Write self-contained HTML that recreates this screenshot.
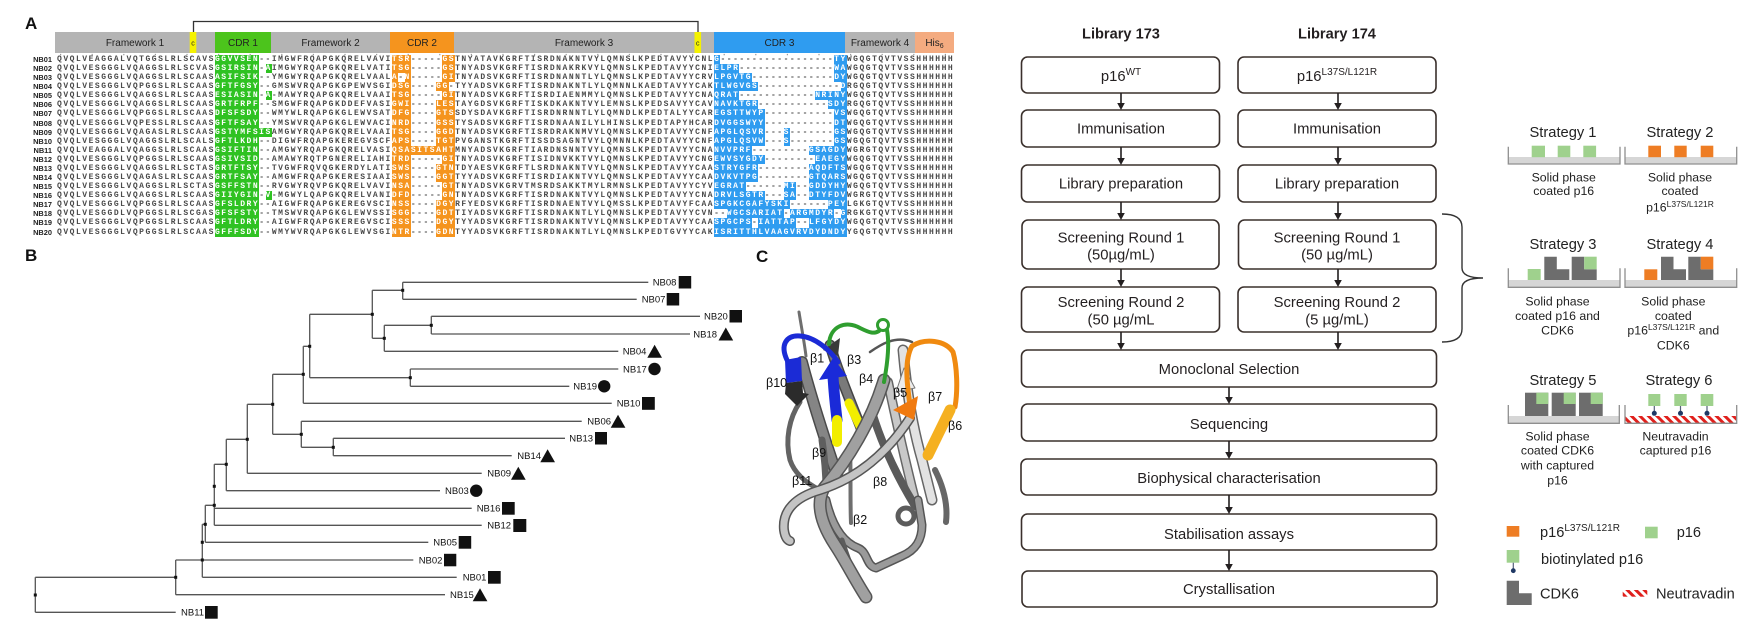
<!DOCTYPE html>
<html><head><meta charset="utf-8">
<style>
html,body{margin:0;padding:0;background:#fff;}
body{width:1762px;height:634px;overflow:hidden;position:relative;}
svg{position:absolute;left:0;top:0;}
.r{position:absolute;left:0;width:960px;height:9.08px;line-height:9.08px;white-space:pre;}
.r i{position:absolute;left:28px;top:0;width:24px;text-align:right;font:bold 7.4px "Liberation Sans",sans-serif;font-style:normal;color:#222;line-height:9.08px;}
.r span{position:absolute;left:57px;top:0;font:bold 8px "Liberation Mono",monospace;letter-spacing:1.517px;color:#4a4a4a;line-height:9.08px;}
.r b{display:inline-block;height:9.08px;vertical-align:top;color:#fff;font-weight:bold;}
.r b.g{background:#2fc222;}
.r b.o{background:#f5941e;}
.r b.b{background:#2f9cf0;}
</style></head><body>
<svg width="1762" height="634" viewBox="0 0 1762 634" xmlns="http://www.w3.org/2000/svg" font-family="Liberation Sans, Arial, sans-serif">
<defs>
<pattern id="hatch" width="6" height="6" patternUnits="userSpaceOnUse" patternTransform="rotate(-45)">
<rect width="6" height="6" fill="#fff"/><rect width="3" height="6" fill="#e0201c"/>
</pattern>
</defs>

<!-- ===== Panel A ===== -->
<text x="25" y="29" font-size="17" font-weight="bold" fill="#111">A</text>
<path d="M193.5,32V21.5H698V32" fill="none" stroke="#333" stroke-width="1.3"/>
<rect x="55" y="32" width="899" height="21" fill="#b4b4b4"/>
<rect x="189.7" y="32" width="6.6" height="21" fill="#f5f200"/>
<rect x="215" y="32" width="56" height="21" fill="#4cc41c"/>
<rect x="390" y="32" width="64" height="21" fill="#f5941e"/>
<rect x="694.5" y="32" width="6.6" height="21" fill="#f5f200"/>
<rect x="714" y="32" width="131" height="21" fill="#2f9cf0"/>
<rect x="915" y="32" width="39" height="21" fill="#f4ab80"/>
<g font-size="10" fill="#222" text-anchor="middle">
<text x="135" y="46">Framework 1</text>
<text x="193" y="45.5" font-size="7">c</text>
<text x="243" y="46">CDR 1</text>
<text x="330.5" y="46">Framework 2</text>
<text x="422" y="46">CDR 2</text>
<text x="584" y="46">Framework 3</text>
<text x="697.8" y="45.5" font-size="7">c</text>
<text x="779.5" y="46">CDR 3</text>
<text x="880" y="46">Framework 4</text>
<text x="934.5" y="46">His<tspan font-size="7" dy="2">6</tspan></text>
</g>
<line x1="60" y1="54.6" x2="954" y2="54.6" stroke="#9a9a9a" stroke-width="1.4" stroke-dasharray="1.2 30.4"/>

<!-- ===== Panel B tree ===== -->
<text x="25" y="261" font-size="17" font-weight="bold" fill="#111">B</text>
<path fill="none" stroke="#555" stroke-width="1.3" d="M402.7,282.3H648.3 M402.7,299.3H636.7 M431.3,316.3H700 M431.3,334H690 M384.3,351.3H618.3 M410.3,369H618.3 M410.3,386.3H569.3 M303.3,403.3H611.7 M301.3,421.3H581.7 M333.3,438.3H565 M333.3,455.7H511.7 M247.3,473.3H481.7 M226.3,490.7H440 M214.3,508.3H471.7 M214.3,525.3H481.7 M205.3,542.3H428.3 M175.7,560H413.3 M202.3,577.3H456.7 M175.7,594.7H445 M35.3,612.3H175.7 M35.3,577.3H175.7 M372.3,290.3H402.7 M309.7,314.3H372.3 M372.3,338.3H384.3 M384.3,325.3H431.3 M309.7,377.7H410.3 M303.3,346.3H309.7 M272.7,374.3H303.3 M272.7,434.3H301.3 M301.3,447.3H333.3 M247.3,404.3H272.7 M226.3,439.3H247.3 M214.3,464.3H226.3 M205.3,505.3H214.3 M202.3,524.3H205.3 M35.3,577.3V612.3 M175.7,560V594.7 M202.3,524.3V577.3 M205.3,505.3V542.3 M214.3,464.3V525.3 M226.3,439.3V490.7 M247.3,404.3V473.3 M272.7,374.3V434.3 M301.3,421.3V447.3 M333.3,438.3V455.7 M303.3,346.3V403.3 M309.7,314.3V377.7 M372.3,290.3V338.3 M402.7,282.3V299.3 M384.3,325.3V351.3 M431.3,316.3V334 M410.3,369V386.3"/>
<g fill="#111">
<rect x="33.8" y="593.5" width="3" height="3"/><rect x="174.2" y="575.8" width="3" height="3"/><rect x="200.8" y="558.5" width="3" height="3"/><rect x="200.8" y="540.8" width="3" height="3"/><rect x="203.8" y="522.8" width="3" height="3"/><rect x="212.8" y="503.8" width="3" height="3"/><rect x="212.8" y="484.8" width="3" height="3"/><rect x="224.8" y="462.8" width="3" height="3"/><rect x="245.8" y="437.8" width="3" height="3"/><rect x="271.2" y="402.8" width="3" height="3"/><rect x="301.8" y="372.8" width="3" height="3"/><rect x="308.2" y="344.8" width="3" height="3"/><rect x="370.8" y="312.8" width="3" height="3"/><rect x="401.2" y="288.8" width="3" height="3"/><rect x="382.8" y="336.8" width="3" height="3"/><rect x="429.8" y="323.8" width="3" height="3"/><rect x="408.8" y="376.2" width="3" height="3"/><rect x="299.8" y="432.8" width="3" height="3"/><rect x="331.8" y="445.8" width="3" height="3"/>
</g>
<g font-size="9.5" fill="#111">
<text x="652.7" y="285.7">NB08</text><rect x="678.7" y="276" width="12.5" height="12.5"/>
<text x="641.7" y="302.7">NB07</text><rect x="666.7" y="293" width="12.5" height="12.5"/>
<text x="704" y="319.7">NB20</text><rect x="729.5" y="310" width="12.5" height="12.5"/>
<text x="693.3" y="337.4">NB18</text><polygon points="718.5,340.5 733.2,340.5 725.8,327.5"/>
<text x="622.7" y="354.7">NB04</text><polygon points="647.3,357.8 662,357.8 654.6,344.8"/>
<text x="623" y="372.4">NB17</text><circle cx="654.5" cy="369" r="6.2"/>
<text x="573.3" y="389.7">NB19</text><circle cx="604.2" cy="386.3" r="6.2"/>
<text x="616.7" y="406.7">NB10</text><rect x="642" y="397" width="12.8" height="12.8"/>
<text x="587.3" y="424.7">NB06</text><polygon points="610.7,427.8 625.4,427.8 618,414.8"/>
<text x="569.3" y="441.7">NB13</text><rect x="595" y="432" width="12" height="12.5"/>
<text x="517.3" y="459.1">NB14</text><polygon points="540.3,462.2 555,462.2 547.6,449.2"/>
<text x="487.3" y="476.7">NB09</text><polygon points="511,479.8 525.7,479.8 518.3,466.8"/>
<text x="445" y="494.1">NB03</text><circle cx="476.2" cy="490.7" r="6.2"/>
<text x="476.7" y="511.7">NB16</text><rect x="502" y="502" width="12.7" height="12.7"/>
<text x="487.3" y="528.7">NB12</text><rect x="513.3" y="519" width="13" height="13"/>
<text x="433.3" y="545.7">NB05</text><rect x="458.7" y="536" width="12.5" height="12.7"/>
<text x="418.7" y="563.4">NB02</text><rect x="444" y="553.8" width="12.3" height="12.5"/>
<text x="462.7" y="580.7">NB01</text><rect x="488" y="571" width="12.7" height="12.7"/>
<text x="450" y="598.1">NB15</text><polygon points="472.7,601.2 487.4,601.2 480,588.2"/>
<text x="181" y="615.7">NB11</text><rect x="205" y="606" width="12.7" height="12.7"/>
</g>

<!-- ===== Panel C protein ===== -->
<text x="756" y="262" font-size="17" font-weight="bold" fill="#111">C</text>
<g fill="none" stroke-linecap="round" stroke-linejoin="round">
<path d="M870,352 C880,345 895,335 912,342" stroke="#555" stroke-width="2.5"/>
<path d="M903,350 C906,385 912,425 922,460 L932,500" stroke="#666" stroke-width="11"/>
<path d="M903,350 C906,385 912,425 922,460 L932,500" stroke="#e2e2e2" stroke-width="8"/>
<path d="M888,382 C896,420 905,460 915,500" stroke="#666" stroke-width="10"/>
<path d="M888,382 C896,420 905,460 915,500" stroke="#c8c8c8" stroke-width="7"/>
<polygon points="896,392 915,388 904,368" fill="#ececec" stroke="#777" stroke-width="1"/>
<path d="M872,412 C882,445 898,478 915,506" stroke="#5a5a5a" stroke-width="8"/>
<path d="M935,470 C944,488 948,505 946,522" stroke="#666" stroke-width="6"/>
<circle cx="906" cy="516" r="8" stroke="#5c5c5c" stroke-width="5"/>
<path d="M826,500 C832,525 842,542 858,548 C868,552 866,566 876,568 L902,556 C916,550 922,540 922,525 L918,500" stroke="#555" stroke-width="9"/>
<path d="M826,500 C832,525 842,542 858,548 C868,552 866,566 876,568 L902,556 C916,550 922,540 922,525 L918,500" stroke="#9a9a9a" stroke-width="6"/>
<path d="M842,540 C850,565 858,585 866,597" stroke="#5c5c5c" stroke-width="5"/>
<path d="M850,445 C851,470 850,500 851,523" stroke="#6e6e6e" stroke-width="4"/>
<path d="M800,402 C789,418 785,440 790,460 C795,475 808,484 820,490" stroke="#636363" stroke-width="5"/>
<path d="M802,362 C812,400 825,440 838,478" stroke="#4a4a4a" stroke-width="12"/>
<path d="M802,362 C812,400 825,440 838,478" stroke="#858585" stroke-width="9"/>
<path d="M799,312 C801,325 804,340 806,356" stroke="#6e6e6e" stroke-width="3"/>
<path d="M822,440 C825,460 826,475 826,490" stroke="#5e5e5e" stroke-width="7"/>
<path d="M830,345 C838,372 850,400 861,428" stroke="#444" stroke-width="11"/>
<path d="M830,345 C838,372 850,400 861,428" stroke="#7a7a7a" stroke-width="8"/>
<path d="M849,403 L861,428" stroke="#f2ee00" stroke-width="9"/>
<polygon points="823,350 840,338 838,356" fill="#3a3a3a"/>
<path d="M884,380 C872,420 848,460 824,488 C815,505 822,525 835,545 C845,560 855,580 866,597" stroke="#555" stroke-width="13"/>
<path d="M884,380 C872,420 848,460 824,488 C815,505 822,525 835,545 C845,560 855,580 866,597" stroke="#a0a0a0" stroke-width="10"/>
<path d="M910,418 C888,452 858,478 820,490 C796,497 782,510 784,530 C785,537 787,540 790,541" stroke="#555" stroke-width="10"/>
<path d="M910,418 C888,452 858,478 820,490 C796,497 782,510 784,530 C785,537 787,540 790,541" stroke="#c4c4c4" stroke-width="7"/>
<path d="M787,360 C780,345 786,335 800,336 C815,337 830,350 838,362" stroke="#1b2bd6" stroke-width="5"/>
<polygon points="785,360 801,357 802,381 786,383" fill="#1b2bd6"/>
<polygon points="786,383 802,381 803,393 809,394 797,406 785,394" fill="#2b2b2b"/>
<path d="M833,376 C834,395 836,410 837,420" stroke="#1a2ad8" stroke-width="11"/>
<polygon points="819,380 847,376 833,358" fill="#1a2ad8"/>
<path d="M837,420 L837,442" stroke="#f2ee00" stroke-width="10"/>
<path d="M829,344 C830,326 846,320 860,328 C870,333 874,334 879,331" stroke="#2f9e2f" stroke-width="4"/>
<circle cx="883" cy="325" r="5.5" stroke="#2f9e2f" stroke-width="3"/>
<path d="M887,330 C890,346 887,366 884,382" stroke="#2f9e2f" stroke-width="4"/>
<path d="M910,405 C907,385 904,360 912,346 C925,338 945,340 953,352 C957,366 958,390 955,407" stroke="#f08a10" stroke-width="5"/>
<polygon points="893,410 918,396 914,420" fill="#f07a10"/>
<path d="M950,410 L928,455" stroke="#f5b020" stroke-width="11"/>
</g>
<g font-size="12.5" fill="#111">
<text x="766" y="387">β10</text><text x="810" y="362.5">β1</text><text x="847" y="364">β3</text><text x="859" y="383">β4</text><text x="893" y="397">β5</text><text x="928" y="401">β7</text><text x="948" y="430">β6</text><text x="812" y="457">β9</text><text x="792" y="485">β11</text><text x="873" y="486">β8</text><text x="853" y="524">β2</text>
</g>

<!-- ===== Flowchart ===== -->
<g font-size="14.8" fill="#231f20" text-anchor="middle">
<text x="1121" y="38.5" font-weight="bold" font-size="14.6">Library 173</text>
<text x="1337" y="38.5" font-weight="bold" font-size="14.6">Library 174</text>
</g>
<g fill="#fff" stroke="#3a302c" stroke-width="1.6">
<rect x="1021.5" y="57" width="198" height="36" rx="6"/>
<rect x="1238" y="57" width="198" height="36" rx="6"/>
<rect x="1021.5" y="110" width="198" height="37" rx="6"/>
<rect x="1238" y="110" width="198" height="37" rx="6"/>
<rect x="1021.5" y="165" width="198" height="37" rx="6"/>
<rect x="1238" y="165" width="198" height="37" rx="6"/>
<rect x="1022" y="220" width="197" height="49" rx="6"/>
<rect x="1238.5" y="220" width="197.5" height="49" rx="6"/>
<rect x="1021.5" y="287" width="198" height="45" rx="6"/>
<rect x="1238" y="287" width="198" height="45" rx="6"/>
<rect x="1021.5" y="350" width="415" height="37" rx="6"/>
<rect x="1021.5" y="404" width="415" height="37" rx="6"/>
<rect x="1021" y="459" width="415.5" height="36" rx="6"/>
<rect x="1021.5" y="514" width="415" height="36" rx="6"/>
<rect x="1022" y="571" width="415" height="36" rx="6"/>
</g>
<g stroke="#231f20" stroke-width="1.6">
<path d="M1121,93V104 M1338,93V104 M1121,147V159 M1338,147V159 M1121,202V214 M1338,202V214 M1121,269V281 M1338,269V281 M1121,332V344 M1338,332V344 M1229,387V398 M1229,441V453 M1229,495V508 M1229,550V565"/>
</g>
<g fill="#231f20">
<polygon points="1117.2,103 1124.8,103 1121,110"/><polygon points="1334.2,103 1341.8,103 1338,110"/>
<polygon points="1117.2,158 1124.8,158 1121,165"/><polygon points="1334.2,158 1341.8,158 1338,165"/>
<polygon points="1117.2,213 1124.8,213 1121,220"/><polygon points="1334.2,213 1341.8,213 1338,220"/>
<polygon points="1117.2,280 1124.8,280 1121,287"/><polygon points="1334.2,280 1341.8,280 1338,287"/>
<polygon points="1117.2,343 1124.8,343 1121,350"/><polygon points="1334.2,343 1341.8,343 1338,350"/>
<polygon points="1225.2,397 1232.8,397 1229,404"/><polygon points="1225.2,452 1232.8,452 1229,459"/>
<polygon points="1225.2,507 1232.8,507 1229,514"/><polygon points="1225.2,564 1232.8,564 1229,571"/>
</g>
<g font-size="14.8" fill="#231f20" text-anchor="middle">
<text x="1121" y="81">p16<tspan font-size="10" dy="-6">WT</tspan></text>
<text x="1337" y="81">p16<tspan font-size="10" dy="-6">L37S/L121R</tspan></text>
<text x="1121" y="133.5">Immunisation</text><text x="1337" y="133.5">Immunisation</text>
<text x="1121" y="188.5">Library preparation</text><text x="1337" y="188.5">Library preparation</text>
<text x="1121" y="242.3">Screening Round 1</text><text x="1121" y="259.5">(50µg/mL)</text>
<text x="1337" y="242.3">Screening Round 1</text><text x="1337" y="259.5">(50 µg/mL)</text>
<text x="1121" y="307">Screening Round 2</text><text x="1121" y="324.5">(50 µg/mL</text>
<text x="1337" y="307">Screening Round 2</text><text x="1337" y="324.5">(5 µg/mL)</text>
<text x="1229" y="374.2">Monoclonal Selection</text>
<text x="1229" y="429">Sequencing</text>
<text x="1229" y="483">Biophysical characterisation</text>
<text x="1229" y="539">Stabilisation assays</text>
<text x="1229" y="594">Crystallisation</text>
</g>
<path d="M1442,214 Q1462,214 1462,227 L1462,268 Q1462,278 1483,278 Q1462,278 1462,288 L1462,329 Q1462,342 1442,342" fill="none" stroke="#333" stroke-width="1.4"/>

<!-- ===== Strategies ===== -->
<g font-size="14.7" fill="#222" text-anchor="middle">
<text x="1563" y="136.8">Strategy 1</text><text x="1680" y="136.8">Strategy 2</text>
<text x="1563" y="249">Strategy 3</text><text x="1680" y="249">Strategy 4</text>
<text x="1563" y="385">Strategy 5</text><text x="1679" y="385">Strategy 6</text>
</g>
<g fill="#d6d6d6">
<rect x="1508.3" y="157" width="111.7" height="7"/><rect x="1625" y="157" width="111.7" height="7"/>
<rect x="1508.3" y="280" width="111.7" height="7"/><rect x="1625" y="280" width="111.7" height="7"/>
<rect x="1508.3" y="416" width="111" height="7"/>
</g>
<rect x="1625" y="416" width="111.7" height="7" fill="url(#hatch)"/>
<g fill="none" stroke="#8f8f8f" stroke-width="1.3">
<path d="M1508.3,146.7V164H1620V146.7 M1625,146.7V164H1736.7V146.7"/>
<path d="M1508.3,268.3V287.3H1620V268.3 M1625,268.3V287.3H1736.7V268.3"/>
<path d="M1508.3,405V423.3H1619.3V405 M1625,405V423.3H1736.7V405"/>
</g>
<g fill="#9fd18d">
<rect x="1531.7" y="145.7" width="13.3" height="11.5"/><rect x="1557.7" y="145.7" width="12.6" height="11.5"/><rect x="1583.3" y="145.7" width="12.8" height="11.5"/>
</g>
<g fill="#ee7d24">
<rect x="1648.3" y="145.7" width="12.7" height="11.5"/><rect x="1674.3" y="145.7" width="12.4" height="11.5"/><rect x="1700.7" y="145.7" width="12.6" height="11.5"/>
</g>
<rect x="1527.7" y="269" width="13" height="11" fill="#9fd18d"/>
<path d="M1544.3,256.7H1556.8V269.3H1569.3V280H1544.3Z" fill="#6d6d6d"/>
<path d="M1571.7,256.7H1584.2V269.3H1596.7V280H1571.7Z" fill="#6d6d6d"/>
<rect x="1584.2" y="256.7" width="12.5" height="12.6" fill="#9fd18d"/>
<rect x="1644.3" y="269.3" width="13" height="10.7" fill="#ee7d24"/>
<path d="M1661,256.7H1673.5V269.3H1686V280H1661Z" fill="#6d6d6d"/>
<path d="M1688.3,256.7H1700.8V269.3H1713.3V280H1688.3Z" fill="#6d6d6d"/>
<rect x="1700.8" y="256.7" width="12.5" height="12.6" fill="#ee7d24"/>
<g fill="#6d6d6d">
<rect x="1525" y="392.7" width="23.3" height="23.3"/><rect x="1551.7" y="392.7" width="24" height="23.3"/><rect x="1579" y="392.7" width="23.7" height="23.3"/>
</g>
<g fill="#9fd18d">
<rect x="1536.3" y="392.7" width="12" height="11.3"/><rect x="1563.7" y="392.7" width="12" height="11.3"/><rect x="1590.7" y="392.7" width="12" height="11.3"/>
</g>
<g fill="#9fd18d">
<rect x="1648.3" y="394" width="12" height="12"/><rect x="1674.3" y="394" width="12.4" height="12"/><rect x="1700.7" y="394" width="12.6" height="12"/>
</g>
<g stroke="#55607a" stroke-width="1.2"><path d="M1654.3,406V411 M1680.5,406V411 M1707,406V411"/></g>
<g fill="#1f3864"><circle cx="1654.3" cy="413.3" r="2.5"/><circle cx="1680.5" cy="413.3" r="2.5"/><circle cx="1707" cy="413.3" r="2.5"/></g>
<g font-size="12.3" fill="#222" text-anchor="middle">
<text x="1563.7" y="181.7">Solid phase</text><text x="1563.7" y="195.1">coated p16</text>
<text x="1680" y="181.7">Solid phase</text><text x="1680" y="195.1">coated</text>
<text x="1680" y="211.5">p16<tspan font-size="8.5" dy="-4.5">L37S/L121R</tspan></text>
<text x="1557.5" y="305.4">Solid phase</text><text x="1557.5" y="320.1">coated p16 and</text><text x="1557.5" y="334.4">CDK6</text>
<text x="1673.3" y="305.4">Solid phase</text><text x="1673.3" y="320.1">coated</text>
<text x="1673.3" y="334.4">p16<tspan font-size="8.5" dy="-4.5">L37S/L121R</tspan><tspan dy="4.5"> and</tspan></text>
<text x="1673.3" y="349.4">CDK6</text>
<text x="1557.5" y="440.4">Solid phase</text><text x="1557.5" y="454.7">coated CDK6</text><text x="1557.5" y="469.4">with captured</text><text x="1557.5" y="484.4">p16</text>
<text x="1675.5" y="440.4">Neutravadin</text><text x="1675.5" y="454.7">captured p16</text>
</g>
<rect x="1506.7" y="526" width="12.6" height="10.7" fill="#ee7d24"/>
<rect x="1645" y="526.7" width="12.7" height="11.6" fill="#9fd18d"/>
<rect x="1506.7" y="550" width="12.6" height="12.7" fill="#9fd18d"/>
<path d="M1513.3,562.7V569" stroke="#55607a" stroke-width="1.2"/>
<circle cx="1513.3" cy="570.7" r="2.4" fill="#1f3864"/>
<path d="M1506.7,580.7H1519V593.3H1531.7V605H1506.7Z" fill="#6d6d6d"/>
<rect x="1622.7" y="590" width="24.6" height="6.7" fill="url(#hatch)"/>
<g font-size="14.6" fill="#222">
<text x="1540" y="537">p16<tspan font-size="10" dy="-6">L37S/L121R</tspan></text>
<text x="1676.7" y="537">p16</text>
<text x="1541" y="564">biotinylated p16</text>
<text x="1540" y="598.5">CDK6</text>
<text x="1656" y="598.5">Neutravadin</text>
</g>
</svg>

<div class="r" style="top:55px"><i>NB01</i><span>QVQLVEAGGALVQTGGSLRLSCAVS<b class=g>GGVVSEN</b>--IMGWFRQAPGKQRELVAVI<b class=o>TSR</b>-----<b class=o>GS</b>TNYATAVKGRFTISRDNAKNTVYLQMNSLKPEDTAVYYCNL<b class=b>G</b>------------------<b class=b>TY</b>WGQGTQVTVSSHHHHHH</span></div>
<div class="r" style="top:64.08px"><i>NB02</i><span>QVQLVESGGGLVQAGGSLRLSCVAS<b class=g>GSIRSIN</b>-<b class=g>A</b>IMGWYRQAPGKQRELVATI<b class=o>TSG</b>-----<b class=o>GS</b>TNYADSVKGRFTISRDNAKRKVYLQMNSLKPEDTAVYYCNI<b class=b>ELPR</b>---------------<b class=b>WA</b>WGQGTQVTVSSHHHHHH</span></div>
<div class="r" style="top:73.16px"><i>NB03</i><span>QVQLVESGGGLVQAGGSLRLSCAAS<b class=g>ASIFSIK</b>--YMGWYRQAPGKQRELVAAL<b class=o>A</b>-<b class=o>N</b>-----<b class=o>GI</b>TNYADSVKGRFTISRDNANNTLYLQMNSLKPEDTAVYYCRV<b class=b>LPGVTG</b>-------------<b class=b>DY</b>WGQGTQVTVSSHHHHHH</span></div>
<div class="r" style="top:82.24px"><i>NB04</i><span>QVQLVESGGGLVQPGGSLRLSCAAS<b class=g>GFTFGSY</b>--GMSWVRQAPGKGPEWVSGI<b class=o>DSG</b>----<b class=o>GG</b>-TYYADSVKGRFTISRDNAKNTLYLQMNNLKAEDTAVYYCAK<b class=b>TLWGVGS</b>-------------<b class=b>D</b>RGQGTQVTVSSHHHHHH</span></div>
<div class="r" style="top:91.32px"><i>NB05</i><span>QVQLVESGGGLVQAGGSLRLSCAAS<b class=g>ESIASIN</b>-<b class=g>A</b>-MAWYRQAPGKQRELVAAI<b class=o>TSG</b>-----<b class=o>GI</b>TNYADSVKGRFTISRDIAENMMYLQMNSLKPEDTAVYYCNA<b class=b>QRAT</b>------------<b class=b>NRINY</b>WGQGTQVTVSSHHHHHH</span></div>
<div class="r" style="top:100.4px"><i>NB06</i><span>QVQLVESGGGLVQAGGSLRLSCAAS<b class=g>GRTFRPF</b>--SMGWFRQAPGKDDEFVASI<b class=o>GWI</b>----<b class=o>LES</b>TAYGDSVKGRFTISKDKAKNTVYLEMNSLKPEDSAVYYCAV<b class=b>NAVKTGR</b>-----------<b class=b>SDY</b>RGQGTQVTVSSHHHHHH</span></div>
<div class="r" style="top:109.48px"><i>NB07</i><span>QVQLVESGGGLVQPGGSLRLSCAAS<b class=g>DFSFSDY</b>--WMYWLRQAPGKGLEWVSAT<b class=o>DFG</b>----<b class=o>GTS</b>SDYSDAVKGRFTISRDNRNNTLYLQMNDLKPEDTALYYCAR<b class=b>EGSTTWYP</b>-----------<b class=b>VS</b>WGQGTQVTVSSHHHHHH</span></div>
<div class="r" style="top:118.56px"><i>NB08</i><span>QVQLVESGGGLVQPESSLRLSCAAS<b class=g>GFTFSAY</b>--YMSWVRQAPGKGLEWVACI<b class=o>NRD</b>----<b class=o>GSS</b>TYSADSVKGRFTISRDNAANILYLHINSLKPEDTAPYHCAR<b class=b>DVGGSWYY</b>-----------<b class=b>DT</b>WGQGTQVTVSSHHHHHH</span></div>
<div class="r" style="top:127.64px"><i>NB09</i><span>QVQLVESGGGLVQAGASLRLSCAAS<b class=g>GSTYMFSIS</b>AMGWYRQAPGKQRELVAAI<b class=o>TSG</b>----<b class=o>GGD</b>TNYADSVKGRFTISRDRAKNMVYLQMNSLKPEDTAVYYCNF<b class=b>APGLQSVR</b>---<b class=b>S</b>-------<b class=b>GS</b>WGQGTQVTVSSHHHHHH</span></div>
<div class="r" style="top:136.72px"><i>NB10</i><span>QVQLVESGGGLVQAGGSLRLSCALS<b class=g>GFTLKDH</b>--DIGWFRQAPGKEREGVSCF<b class=o>APS</b>----<b class=o>TGT</b>PVGANSTKGRFTISSDSAGNTVYLQMNNLKPEDTAVYYCNF<b class=b>APGLQSVW</b>---<b class=b>S</b>-------<b class=b>GS</b>WGQGTQVTVSSHHHHHH</span></div>
<div class="r" style="top:145.8px"><i>NB11</i><span>QVQLVEAGGALVQAGGSLRLSCAAS<b class=g>GSIFTIN</b>--AMGWYRQAPGKQRELVASI<b class=o>QSASITSAHT</b>MNYADSVKGRFTIARDNSNNTVYLQMNSLKPEDTAVYYCNA<b class=b>NVVPRF</b>---------<b class=b>GSAGDY</b>WGRGTQVTVSSHHHHHH</span></div>
<div class="r" style="top:154.88px"><i>NB12</i><span>QVQLVESGGGLVQPGGSLRLSCAAS<b class=g>GSIVSID</b>--AMAWYRQTPGNERELIAHI<b class=o>TRD</b>-----<b class=o>GI</b>TNYADSVKGRFTISIDNVKKTVYLQMNSLKPEDTAVYYCNG<b class=b>EWVSYGDY</b>--------<b class=b>EAEGY</b>WGQGTQVTVSSHHHHHH</span></div>
<div class="r" style="top:163.96px"><i>NB13</i><span>QVQLVESGGGLVQAGGSLRLSCTAS<b class=g>GRTFTSY</b>--TVGWFRQVQGKERDYLATI<b class=o>SWS</b>----<b class=o>GTN</b>TDYAESVKGRFTLSRDNAKNTVYLQMNSLKPEDTAVYYCAA<b class=b>STRYGFR</b>--------<b class=b>AQDFTS</b>WGQGTQVTVSSHHHHHH</span></div>
<div class="r" style="top:173.04px"><i>NB14</i><span>QVQLVESGGGLVQAGASLRLSCAAS<b class=g>GRTFSAY</b>--AMGWFRQAPGKERESIAAI<b class=o>SWS</b>----<b class=o>GGT</b>TYYADSVKGRFTISRDIAKNTVYLQMNSLKPEDTAVYYCAA<b class=b>DVKVTPG</b>--------<b class=b>GTQARS</b>WGQGTQVTVSSHHHHHH</span></div>
<div class="r" style="top:182.12px"><i>NB15</i><span>QVQLVESGGGLVQAGGSLRLSCTAS<b class=g>GSFFSTN</b>--RVGWYRQVPGKQRELVAVI<b class=o>NSA</b>-----<b class=o>GT</b>TNYADSVKGRVTMSRDSAKKTMYLRMNSLKPEDTAVYYCYV<b class=b>EGRAT</b>------<b class=b>MI</b>--<b class=b>GDDYHY</b>WGQGTQVTVSSHHHHHH</span></div>
<div class="r" style="top:191.2px"><i>NB16</i><span>QVQLVESGGGLVQAGGSLRLSCAAS<b class=g>GIIYGIN</b>-<b class=g>V</b>-MGWYLQAPGKQRELVANI<b class=o>DFD</b>-----<b class=o>GN</b>TNYADSVKGRFTISRDNAKNTVYLQMNSLKPEDTAVYYCNA<b class=b>DRVLSGTR</b>---<b class=b>SA</b>--<b class=b>DTYFDV</b>WGRGTQVTVSSHHHHHH</span></div>
<div class="r" style="top:200.28px"><i>NB17</i><span>QVQLVESGGGLVQPGGSLRLSCAAS<b class=g>GFSLDRY</b>--AIGWFRQAPGKEREGVSCI<b class=o>NSS</b>----<b class=o>DGY</b>RFYEDSVKGRFTISRDNAENTVYLQMSSLKPEDTAVYFCAA<b class=b>SPGKCGAFYSKI</b>------<b class=b>PEY</b>LGKGTQVTVSSHHHHHH</span></div>
<div class="r" style="top:209.36px"><i>NB18</i><span>QVQLVESGGDLVQPGGSLRLSCGAS<b class=g>GFSFSTY</b>--TMSWVRQAPGKGLEWVSSI<b class=o>SGG</b>----<b class=o>GDT</b>TIYADSVKGRFTISRDNAKNTLYLQMNSLKPEDTAVYYCVN--<b class=b>WGCSARIAT</b>-<b class=b>ARGMDYR</b>-<b class=b>G</b>RGKGTQVTVSSHHHHHH</span></div>
<div class="r" style="top:218.44px"><i>NB19</i><span>QVQLVESGGGLVQPGGSLRLSCAAS<b class=g>GFTLDRY</b>--AIGWFRQAPGKEREGVSCI<b class=o>SSS</b>----<b class=o>DGY</b>TYYADSVKGRFTISRDNAKNTVYLQMNSLKPEDTAVYYCAA<b class=b>SPGCPS</b>-<b class=b>IATTAP</b>--<b class=b>LFGYDY</b>WGQGTQVTVSSHHHHHH</span></div>
<div class="r" style="top:227.52px"><i>NB20</i><span>QVQLVESGGGLVQPGGSLRLSCAAS<b class=g>GFFFSDY</b>--WMYWVRQAPGKGLEWVSGI<b class=o>NTR</b>----<b class=o>GDN</b>TYYADSVKGRFTISRDNAKNTLYLQMNSLKPEDTGVYYCAK<b class=b>ISRITTHLVAAGVRVDYDNDY</b>YGQGTQVTVSSHHHHHH</span></div>
</body></html>
